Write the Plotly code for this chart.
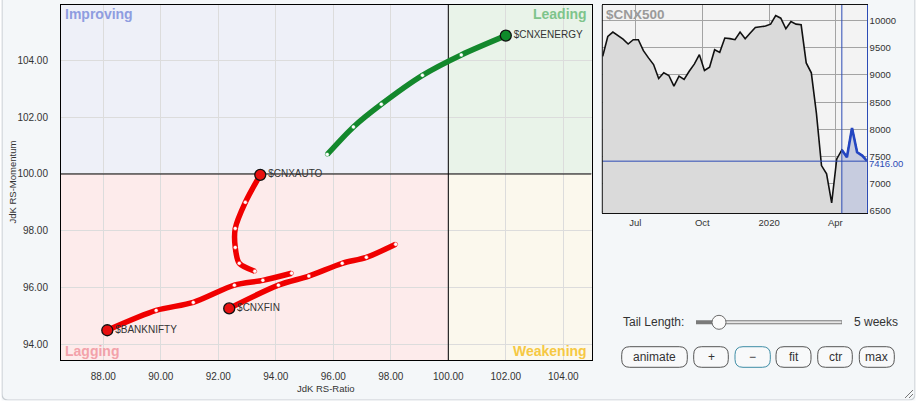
import plotly.graph_objects as go
import pandas as pd

W, H = 917, 404

# ---------------- data ----------------
energy_x = [95.79, 96.70, 97.67, 99.10, 100.45, 102.00]
energy_y = [100.69, 101.66, 102.46, 103.48, 104.20, 104.88]
auto_x = [93.27, 92.73, 92.59, 92.59, 92.94, 93.46]
auto_y = [96.57, 96.85, 97.41, 98.08, 99.00, 99.97]
fin_x = [98.17, 97.15, 96.31, 95.15, 94.09, 92.38]
fin_y = [97.52, 97.06, 96.85, 96.40, 96.08, 95.26]
bank_x = [94.55, 93.55, 92.56, 91.13, 89.84, 88.14]
bank_y = [96.50, 96.25, 96.08, 95.47, 95.19, 94.49]

series_names = ["$CNXENERGY", "$CNXAUTO", "$CNXFIN", "$BANKNIFTY"]
series_colors = ["#13882c", "#f00000", "#f00000", "#f00000"]
head_colors = ["#0f8a2a", "#e81010", "#e81010", "#e81010"]

benchmark = 100
ratio_range = [86.53, 104.98]
momentum_range = [93.44, 105.96]
ratio_ticks = [88, 90, 92, 94, 96, 98, 100, 102, 104]
momentum_ticks = [94, 96, 98, 100, 102, 104]

cnx500_dates = pd.date_range("2019-05-17", periods=53, freq="7D")
cnx500_values = [
    9343, 9708, 9788, 9726, 9660, 9569, 9648, 9648, 9447, 9314,
    9192, 8936, 9040, 8991, 8796, 8978, 8918, 9069, 9200, 9374,
    9082, 9142, 9465, 9416, 9679, 9668, 9648, 9788, 9666, 9770,
    9872, 9885, 9900, 9934, 10091, 10044, 9849, 9982, 9934, 9922,
    9222, 9040, 8300, 7335, 7184, 6649, 7458, 7622, 7489, 8024,
    7580, 7518, 7416,
]
tail_start = 47
last_value = 7416.00
inset_xrange = ["2019-05-16 10:48", "2020-05-14 04:48"]
inset_tickvals = ["2019-07-01", "2019-10-01", "2020-01-01", "2020-04-01"]
inset_ticktext = ["Jul", "Oct", "2020", "Apr"]
inset_yticks = [6500, 7000, 7500, 8000, 8500, 9000, 9500, 10000]

FONT = "Liberation Sans, Arial, sans-serif"


def px(x):
    return x / W


def py(y):
    return 1 - y / H


def rrect(x0, y0, x1, y1, r):
    return (f"M {px(x0 + r)},{py(y0)} L {px(x1 - r)},{py(y0)} "
            f"Q {px(x1)},{py(y0)} {px(x1)},{py(y0 + r)} "
            f"L {px(x1)},{py(y1 - r)} Q {px(x1)},{py(y1)} {px(x1 - r)},{py(y1)} "
            f"L {px(x0 + r)},{py(y1)} Q {px(x0)},{py(y1)} {px(x0)},{py(y1 - r)} "
            f"L {px(x0)},{py(y0 + r)} Q {px(x0)},{py(y0)} {px(x0 + r)},{py(y0)} Z")


fig = go.Figure()

# benchmark cross lines (drawn first: above grid, below trails)
fig.add_trace(go.Scatter(x=[benchmark, benchmark], y=momentum_range, mode="lines",
                         line=dict(color="#000", width=1), xaxis="x", yaxis="y", hoverinfo="skip"))
fig.add_trace(go.Scatter(x=ratio_range, y=[benchmark, benchmark], mode="lines",
                         line=dict(color="#000", width=1), xaxis="x", yaxis="y", hoverinfo="skip"))

# ---------------- RRG trails ----------------
trails = [(energy_x, energy_y), (auto_x, auto_y), (fin_x, fin_y), (bank_x, bank_y)]
for (xs, ys), name, col, hcol in zip(trails, series_names, series_colors, head_colors):
    fig.add_trace(go.Scatter(
        x=xs, y=ys, mode="lines", line=dict(color=col, width=5.5, shape="spline", smoothing=0.8),
        xaxis="x", yaxis="y", hoverinfo="skip"))
    fig.add_trace(go.Scatter(
        x=xs[:-1], y=ys[:-1], mode="markers",
        marker=dict(color="white", size=4, line=dict(color=col, width=0.5)),
        xaxis="x", yaxis="y", hoverinfo="skip"))
    fig.add_trace(go.Scatter(
        x=[xs[-1]], y=[ys[-1]], mode="markers+text", text=[name],
        textposition="middle right", textfont=dict(family=FONT, size=10, color="#333"),
        marker=dict(color=hcol, size=11, line=dict(color="#111", width=1.3)),
        xaxis="x", yaxis="y", hoverinfo="skip"))

# ---------------- inset price chart ----------------
fig.add_trace(go.Scatter(
    x=cnx500_dates, y=cnx500_values, mode="lines", fill="tozeroy",
    fillcolor="#dadada", line=dict(color="#111", width=1.6),
    xaxis="x2", yaxis="y2", hoverinfo="skip"))
fig.add_trace(go.Scatter(
    x=cnx500_dates[tail_start:], y=cnx500_values[tail_start:], mode="lines", fill="tozeroy",
    fillcolor="#c7ccdf", line=dict(color="#2446c2", width=2.6),
    xaxis="x2", yaxis="y2", hoverinfo="skip"))

shapes = []
# quadrants
big = 1000
quads = [(-big, benchmark, benchmark, big, "#eef0f8"), (benchmark, benchmark, big, big, "#e9f3e9"),
         (-big, -big, benchmark, benchmark, "#fdebeb"), (benchmark, -big, big, benchmark, "#fbf8ed")]
for x0, y0, x1, y1, c in quads:
    shapes.append(dict(type="rect", xref="x", yref="y", x0=x0, y0=y0, x1=x1, y1=y1,
                       fillcolor=c, line=dict(width=0), layer="below"))

# inset markers
shapes.append(dict(type="line", xref="x2", yref="paper",
                   x0=cnx500_dates[tail_start], x1=cnx500_dates[tail_start], y0=py(213.3), y1=py(5),
                   line=dict(color="#2c4bb5", width=1)))
shapes.append(dict(type="line", xref="paper", yref="y2", x0=px(602.3), x1=px(866.7),
                   y0=last_value, y1=last_value, line=dict(color="#2c4bb5", width=1)))
shapes.append(dict(type="line", xref="paper", yref="paper", x0=px(602.3), x1=px(602.3),
                   y0=py(213.3), y1=py(5), line=dict(color="#111", width=1)))

# panel border and outside strips
shapes.append(dict(type="path", xref="paper", yref="paper", path=rrect(2, -10, 915, 400, 6),
                   line=dict(color="#c9ced3", width=1.2)))
for x0, y0, x1, y1 in [(0, 0, 1.5, 404), (0, 400.5, 917, 404), (915.5, 0, 917, 404)]:
    shapes.append(dict(type="rect", xref="paper", yref="paper", x0=px(x0), x1=px(x1),
                       y0=py(y1), y1=py(y0), fillcolor="white", line=dict(width=0)))

# slider
shapes.append(dict(type="line", xref="paper", yref="paper", x0=px(696), x1=px(842),
                   y0=py(322.3), y1=py(322.3), line=dict(color="#7a7a7a", width=4)))
shapes.append(dict(type="line", xref="paper", yref="paper", x0=px(719), x1=px(841.5),
                   y0=py(322.3), y1=py(322.3), line=dict(color="#e6e6e6", width=2)))
shapes.append(dict(type="circle", xref="paper", yref="paper", x0=px(712), x1=px(726),
                   y0=py(329.3), y1=py(315.3), fillcolor="#fbfbfb",
                   line=dict(color="#6b6b6b", width=1)))

# buttons
buttons = [("animate", 621.7, 687.3, "#555"), ("+", 693.7, 728.3, "#555"),
           ("−", 735, 770.3, "#3e8da6"), ("fit", 776, 811, "#555"),
           ("ctr", 817.7, 852.3, "#555"), ("max", 859.3, 894.3, "#555")]
for lab, x0, x1, bc in buttons:
    shapes.append(dict(type="path", xref="paper", yref="paper", path=rrect(x0, 346.7, x1, 367.3, 8),
                       fillcolor="#f8f9fa", line=dict(color=bc, width=1)))
# resize grip
for d in (4, 8):
    shapes.append(dict(type="line", xref="paper", yref="paper", x0=px(913 - d), y0=py(398),
                       x1=px(913), y1=py(398 - d), line=dict(color="#777", width=1)))

annotations = []


def note(text, x, y, size, color, xanchor="center", bold=False, textangle=0):
    annotations.append(dict(text=f"<b>{text}</b>" if bold else text, xref="paper", yref="paper",
                            x=px(x), y=py(y), xanchor=xanchor, yanchor="middle",
                            showarrow=False, textangle=textangle,
                            font=dict(family=FONT, size=size, color=color)))


note("Improving", 63, 14, 14, "#8e9de0", "left", True)
note("Leading", 589, 14, 14, "#7ec48b", "right", True)
note("Lagging", 63, 351, 14, "#f3a2aa", "left", True)
note("Weakening", 589, 351, 14, "#f6c843", "right", True)
note("JdK RS-Ratio", 326, 388, 9.5, "#333")
note("JdK RS-Momentum", 12, 182.5, 9.5, "#333", textangle=-90)
note("$CNX500", 604, 14, 13.5, "#9a9a9a", "left", True)
note(f"{last_value:.2f}", 866.5, 163, 9.5, "#2c4bb5", "left")
note("Tail Length:", 621, 322.3, 12, "#333", "left")
note("5 weeks", 851.7, 322.3, 12, "#333", "left")
for lab, x0, x1, bc in buttons:
    note(lab, (x0 + x1) / 2, 357, 12, "#333")

fig.update_layout(
    width=W, height=H, autosize=False,
    margin=dict(l=0, r=0, t=0, b=0, pad=0, autoexpand=False),
    paper_bgcolor="#f4f7f9", plot_bgcolor="#f3f3f3",
    showlegend=False,
    font=dict(family=FONT, size=10, color="#333"),
    xaxis=dict(domain=[px(61), px(591.5)], range=ratio_range,
               tickvals=ratio_ticks, tickformat=".2f", automargin=False,
               showgrid=True, gridcolor="#dcdcdc", gridwidth=1, zeroline=False,
               showline=True, mirror=True, linecolor="#000", linewidth=1,
               ticks="", ticklabelstandoff=7, tickfont=dict(size=10, color="#333"),
               anchor="y", fixedrange=True),
    yaxis=dict(domain=[py(360), py(5)], range=momentum_range,
               tickvals=momentum_ticks, tickformat=".2f", automargin=False,
               showgrid=True, gridcolor="#dcdcdc", gridwidth=1, zeroline=False,
               showline=True, mirror=True, linecolor="#000", linewidth=1,
               ticks="", ticklabelstandoff=10, tickfont=dict(size=10, color="#333"),
               anchor="x", fixedrange=True),
    xaxis2=dict(domain=[px(602.3), px(866.7)], range=inset_xrange,
                tickvals=inset_tickvals, ticktext=inset_ticktext, automargin=False,
                showgrid=True, gridcolor="#a3a3a3", zeroline=False,
                showline=True, mirror=True, linecolor="#111", linewidth=1,
                ticks="", ticklabelstandoff=0, tickfont=dict(size=9.5, color="#333"),
                anchor="y2", layer="above traces", fixedrange=True),
    yaxis2=dict(domain=[py(213.3), py(5)], range=[6458, 10286], side="right",
                tickvals=inset_yticks, tickformat="d", automargin=False,
                showgrid=True, gridcolor="#a3a3a3", zeroline=False,
                showline=True, linecolor="#2c4bb5", linewidth=1,
                ticks="", ticklabelstandoff=0, tickfont=dict(size=9.5, color="#333"),
                anchor="x2", layer="above traces", fixedrange=True),
    shapes=shapes,
    annotations=annotations,
)

post = (
    "var de=document.documentElement, b=document.body;"
    "de.style.margin='0'; de.style.padding='0'; de.style.overflow='hidden';"
    "b.style.margin='0'; b.style.padding='0'; b.style.overflow='hidden';"
)
fig.write_html("out.html", config={"displayModeBar": False, "staticPlot": True}, post_script=post)
